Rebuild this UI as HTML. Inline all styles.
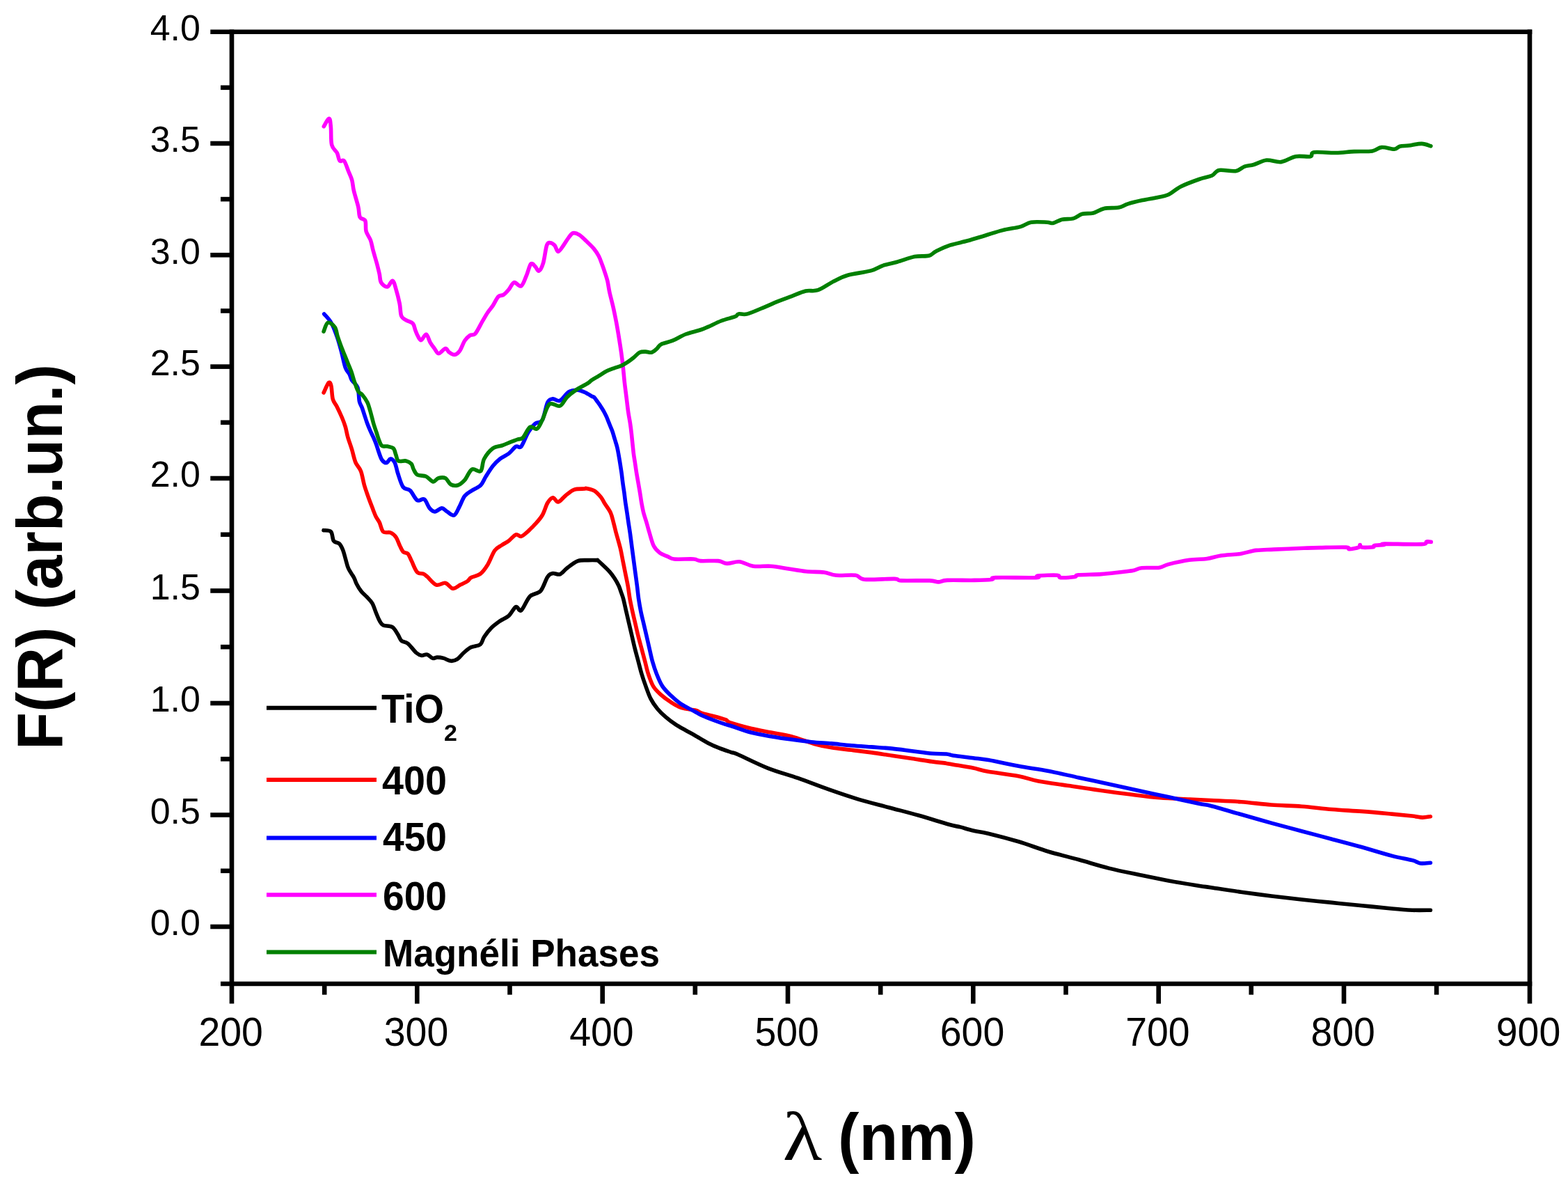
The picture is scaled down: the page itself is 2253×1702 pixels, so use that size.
<!DOCTYPE html>
<html><head><meta charset="utf-8"><title>F(R) vs wavelength</title>
<style>html,body{margin:0;padding:0;background:#fff;}svg{display:block;}.t{font-family:"Liberation Sans",Arial,sans-serif;fill:#000;}</style></head><body>
<svg width="2253" height="1702" viewBox="0 0 2253 1702">
<rect width="2253" height="1702" fill="#fff"/>
<g fill="none" stroke-width="5.6" stroke-linejoin="round" stroke-linecap="round">
<path stroke="#000000" d="M465.0,761.7 C466.8,762.0 473.1,761.2 475.5,763.7 C477.9,766.2 477.5,774.0 479.5,776.9 C481.5,779.8 485.2,778.6 487.4,780.8 C489.6,783.0 491.2,786.3 492.7,790.0 C494.2,793.7 495.3,798.8 496.6,803.2 C497.9,807.6 498.6,812.0 500.6,816.4 C502.6,820.8 506.5,825.8 508.5,829.5 C510.5,833.2 510.6,835.4 512.4,838.7 C514.1,842.0 516.6,846.2 519.0,849.3 C521.4,852.4 524.3,854.4 526.9,857.2 C529.5,860.1 532.6,862.7 534.8,866.4 C537.0,870.1 538.4,875.3 540.1,879.5 C541.9,883.7 543.5,888.3 545.3,891.4 C547.0,894.5 547.5,896.5 550.6,898.0 C553.7,899.5 560.2,898.4 563.7,900.6 C567.2,902.8 569.4,907.8 571.6,911.1 C573.8,914.4 574.5,918.2 576.9,920.4 C579.3,922.6 582.6,921.4 586.1,924.3 C589.6,927.1 594.7,934.6 598.0,937.5 C601.3,940.4 603.3,941.0 605.9,941.4 C608.5,941.8 611.2,939.4 613.8,940.1 C616.4,940.8 619.3,944.7 621.7,945.4 C624.1,946.1 625.7,944.1 628.3,944.1 C630.9,944.1 634.2,944.5 637.5,945.4 C640.8,946.3 644.7,949.1 648.0,949.3 C651.3,949.5 654.1,948.7 657.2,946.7 C660.3,944.7 663.1,940.4 666.4,937.5 C669.7,934.6 673.0,931.6 677.0,929.6 C681.0,927.6 687.0,928.1 690.1,925.6 C693.2,923.1 693.1,918.6 695.7,914.7 C698.3,910.8 702.0,905.8 705.8,902.0 C709.6,898.2 714.3,894.9 718.5,891.9 C722.7,888.9 727.3,887.7 731.1,884.3 C734.9,880.9 738.3,872.9 741.3,871.6 C744.3,870.3 745.5,879.2 748.9,876.7 C752.3,874.2 756.9,861.1 761.5,856.5 C766.1,851.9 772.5,853.5 776.7,848.9 C780.9,844.2 783.8,832.8 786.8,828.6 C789.8,824.4 791.4,824.1 794.4,823.5 C797.4,822.9 801.2,826.0 804.6,824.8 C808.0,823.5 810.5,819.2 814.7,816.0 C818.9,812.8 824.8,807.7 829.9,805.8 C835.0,803.9 840.5,804.8 845.1,804.6 C849.7,804.4 855.4,804.5 857.7,804.6 C860.0,804.7 857.5,803.6 859.1,805.0 C860.7,806.4 864.7,810.1 867.5,812.8 C870.3,815.5 873.3,818.2 875.9,821.2 C878.5,824.2 880.9,827.4 883.1,830.8 C885.3,834.2 887.5,838.1 889.1,841.5 C890.7,844.9 891.5,848.0 892.6,851.1 C893.7,854.2 894.4,855.5 895.6,860.0 C896.8,864.5 898.3,871.9 899.7,877.9 C901.1,883.9 902.5,889.9 903.9,895.9 C905.3,901.9 906.7,907.8 908.1,913.8 C909.5,919.8 910.8,925.8 912.3,931.8 C913.8,937.8 915.5,943.7 917.1,949.7 C918.7,955.7 920.1,961.7 921.9,967.7 C923.7,973.7 925.7,979.6 927.9,985.6 C930.1,991.6 932.2,998.2 935.0,1003.6 C937.8,1009.0 941.0,1013.5 944.6,1017.9 C948.2,1022.3 952.2,1026.1 956.6,1029.9 C961.0,1033.7 966.1,1037.5 970.9,1040.7 C975.7,1043.9 980.7,1046.4 985.3,1049.0 C989.9,1051.6 993.1,1053.2 998.4,1056.2 C1003.7,1059.2 1011.4,1064.1 1017.3,1067.2 C1023.2,1070.3 1028.4,1072.5 1034.0,1074.7 C1039.6,1076.9 1046.5,1079.1 1050.8,1080.6 C1055.1,1082.1 1051.2,1079.7 1060.0,1083.5 C1068.8,1087.3 1088.9,1097.6 1103.4,1103.3 C1117.9,1109.0 1132.3,1112.6 1146.8,1117.7 C1161.3,1122.8 1175.7,1128.6 1190.2,1133.7 C1204.7,1138.8 1219.1,1143.8 1233.6,1148.1 C1248.1,1152.4 1262.5,1155.8 1277.0,1159.7 C1291.5,1163.6 1305.9,1167.2 1320.4,1171.3 C1334.9,1175.4 1353.9,1181.5 1363.8,1184.3 C1373.7,1187.1 1374.2,1186.5 1380.0,1187.9 C1385.8,1189.4 1391.6,1191.5 1398.3,1193.0 C1405.0,1194.5 1409.2,1194.6 1420.0,1197.2 C1430.8,1199.8 1448.9,1204.5 1463.4,1208.8 C1477.9,1213.1 1492.3,1218.9 1506.8,1223.2 C1521.3,1227.5 1535.7,1230.8 1550.2,1234.8 C1564.7,1238.8 1579.1,1243.5 1593.6,1247.1 C1608.1,1250.7 1622.5,1253.5 1637.0,1256.5 C1651.5,1259.5 1665.9,1262.5 1680.4,1265.2 C1694.9,1267.9 1713.9,1270.8 1723.8,1272.4 C1733.7,1274.0 1730.1,1273.2 1740.0,1274.7 C1749.9,1276.2 1768.9,1279.2 1783.4,1281.2 C1797.9,1283.2 1812.3,1285.2 1826.8,1287.0 C1841.3,1288.8 1855.7,1290.4 1870.2,1292.0 C1884.7,1293.6 1899.1,1295.0 1913.6,1296.4 C1928.1,1297.9 1942.7,1299.3 1957.0,1300.7 C1971.3,1302.1 1987.5,1303.9 1999.6,1305.0 C2011.6,1306.1 2020.0,1306.8 2029.3,1307.2 C2038.6,1307.6 2051.1,1307.2 2055.4,1307.2"/>
<path stroke="#ff0000" d="M465.1,564.0 C466.3,561.6 470.5,551.3 472.3,549.7 C474.1,548.1 474.9,550.5 475.9,554.5 C476.9,558.5 476.9,568.6 478.3,573.6 C479.7,578.6 482.1,580.0 484.3,584.4 C486.5,588.8 489.5,595.2 491.5,600.0 C493.5,604.8 494.9,608.4 496.3,613.1 C497.7,617.8 498.2,622.5 499.8,628.0 C501.4,633.5 504.0,640.3 505.8,646.3 C507.6,652.3 508.8,659.0 510.9,664.1 C513.0,669.2 516.4,671.2 518.5,676.7 C520.6,682.2 521.8,691.1 523.5,697.0 C525.2,702.9 526.5,706.3 528.6,712.2 C530.7,718.1 534.3,727.4 536.2,732.4 C538.1,737.4 538.6,739.0 540.1,742.0 C541.6,745.0 543.5,746.9 545.3,750.5 C547.0,754.1 548.0,761.3 550.6,763.7 C553.2,766.1 558.0,763.7 561.1,765.0 C564.2,766.3 566.8,768.5 569.0,771.6 C571.2,774.7 572.5,779.9 574.3,783.4 C576.0,786.9 577.5,790.7 579.5,792.7 C581.5,794.7 584.1,793.1 586.1,795.3 C588.1,797.5 589.2,801.4 591.4,805.8 C593.6,810.2 596.4,818.5 599.3,821.6 C602.1,824.7 606.1,823.2 608.5,824.3 C610.9,825.4 610.7,825.6 613.8,828.2 C616.9,830.8 622.5,838.6 626.9,840.1 C631.3,841.6 636.1,836.5 640.1,837.4 C644.1,838.3 647.1,844.8 650.6,845.3 C654.1,845.8 657.7,841.9 661.2,840.1 C664.7,838.4 669.1,836.6 671.7,834.8 C674.3,833.0 673.9,831.2 677.0,829.5 C680.1,827.8 686.1,827.4 690.1,824.3 C694.1,821.2 697.3,816.5 700.8,810.9 C704.3,805.3 707.5,795.2 710.9,790.6 C714.3,786.0 717.6,785.3 721.0,783.0 C724.4,780.7 727.7,779.2 731.1,776.7 C734.5,774.2 738.3,768.8 741.3,767.8 C744.3,766.8 745.9,771.2 748.9,770.4 C751.9,769.6 755.6,765.8 759.0,762.8 C762.4,759.8 765.7,756.5 769.1,752.7 C772.5,748.9 776.2,745.1 779.2,740.0 C782.2,734.9 784.3,726.5 786.8,722.3 C789.3,718.1 791.9,714.9 794.4,714.7 C796.9,714.5 799.0,721.4 802.0,721.0 C805.0,720.6 808.4,715.2 812.2,712.2 C816.0,709.2 820.2,705.0 824.8,703.3 C829.4,701.6 837.1,702.3 840.0,702.0 C842.9,701.7 840.0,701.0 842.4,701.5 C844.8,702.0 850.8,702.9 854.4,705.1 C858.0,707.3 861.5,711.8 863.9,714.7 C866.2,717.6 866.3,718.9 868.5,722.5 C870.7,726.1 875.0,731.4 877.2,736.1 C879.4,740.8 880.2,745.7 881.5,750.5 C882.8,755.3 883.5,758.7 885.1,764.9 C886.8,771.1 889.8,780.9 891.4,787.7 C893.0,794.5 893.8,799.6 895.0,805.6 C896.2,811.6 897.4,817.6 898.6,823.6 C899.8,829.6 901.1,835.4 902.2,841.5 C903.3,847.6 903.9,853.9 905.0,860.0 C906.1,866.1 907.4,871.9 908.7,877.9 C910.0,883.9 911.5,889.9 912.9,895.9 C914.3,901.9 915.6,907.8 917.1,913.8 C918.6,919.8 920.3,925.8 921.9,931.8 C923.5,937.8 925.1,943.7 926.7,949.7 C928.3,955.7 929.4,961.7 931.4,967.7 C933.4,973.7 935.6,980.6 938.6,985.6 C941.6,990.6 945.2,993.8 949.4,997.6 C953.6,1001.4 958.8,1005.2 963.8,1008.4 C968.8,1011.6 973.3,1014.7 979.3,1016.7 C985.3,1018.7 994.7,1019.0 999.6,1020.3 C1004.5,1021.6 1004.6,1023.1 1008.9,1024.5 C1013.2,1025.9 1020.0,1027.2 1025.6,1028.7 C1031.2,1030.2 1038.3,1032.1 1042.4,1033.7 C1046.5,1035.3 1043.9,1036.1 1050.0,1038.2 C1056.1,1040.3 1069.2,1043.9 1078.9,1046.2 C1088.6,1048.5 1098.2,1050.1 1107.9,1052.0 C1117.6,1053.9 1126.0,1054.8 1136.8,1057.7 C1147.6,1060.6 1163.3,1066.6 1173.0,1069.3 C1182.7,1072.0 1186.3,1072.4 1194.7,1073.7 C1203.1,1075.0 1214.0,1076.1 1223.6,1077.3 C1233.2,1078.5 1242.8,1079.6 1252.5,1080.9 C1262.2,1082.2 1271.8,1083.8 1281.5,1085.2 C1291.2,1086.7 1300.8,1088.1 1310.4,1089.6 C1320.0,1091.0 1331.0,1092.8 1339.3,1093.9 C1347.6,1095.0 1354.9,1095.7 1360.0,1096.4 C1365.1,1097.1 1363.6,1097.1 1370.0,1098.2 C1376.4,1099.3 1390.0,1101.4 1398.3,1103.1 C1406.6,1104.8 1409.2,1106.3 1420.0,1108.2 C1430.8,1110.1 1451.4,1112.4 1463.4,1114.7 C1475.5,1117.0 1480.2,1119.7 1492.3,1122.0 C1504.3,1124.3 1521.2,1126.3 1535.7,1128.5 C1550.2,1130.7 1564.6,1133.0 1579.1,1135.0 C1593.6,1137.0 1608.0,1139.0 1622.5,1140.8 C1637.0,1142.6 1651.4,1144.6 1665.9,1145.8 C1680.4,1147.0 1697.0,1147.4 1709.3,1148.0 C1721.6,1148.6 1727.7,1148.9 1740.0,1149.5 C1752.3,1150.1 1768.9,1150.6 1783.4,1151.7 C1797.9,1152.8 1812.3,1154.9 1826.8,1156.0 C1841.3,1157.1 1855.7,1157.1 1870.2,1158.2 C1884.7,1159.3 1899.1,1161.3 1913.6,1162.5 C1928.1,1163.7 1942.7,1164.3 1957.0,1165.4 C1971.3,1166.5 1987.5,1168.0 1999.6,1169.1 C2011.6,1170.2 2021.9,1171.2 2029.3,1172.0 C2036.7,1172.8 2039.4,1174.0 2043.8,1174.1 C2048.2,1174.2 2053.5,1172.9 2055.4,1172.7"/>
<path stroke="#0000ff" d="M465.7,450.9 C467.4,453.0 472.8,458.0 475.9,463.5 C479.0,469.0 481.9,477.1 484.3,483.9 C486.7,490.7 488.3,496.8 490.3,504.2 C492.3,511.6 494.3,522.5 496.3,528.1 C498.3,533.7 500.7,534.7 502.2,537.7 C503.7,540.7 503.5,542.8 505.5,546.0 C507.5,549.2 512.2,551.9 514.0,557.0 C515.8,562.1 515.4,571.8 516.4,576.5 C517.4,581.2 518.8,581.9 520.0,585.1 C521.2,588.3 522.4,592.3 523.6,595.9 C524.8,599.5 525.9,603.1 527.2,606.7 C528.5,610.3 530.0,613.9 531.5,617.5 C533.0,621.1 534.9,624.6 536.5,628.2 C538.1,631.8 539.6,635.4 540.9,639.0 C542.2,642.6 543.1,646.2 544.4,649.8 C545.7,653.4 547.0,658.0 548.8,660.5 C550.6,663.0 553.2,665.0 555.2,664.8 C557.2,664.6 559.1,659.3 561.0,659.1 C562.9,658.9 565.3,661.2 566.7,663.4 C568.1,665.5 568.8,669.2 569.6,672.0 C570.4,674.8 570.1,675.4 571.7,680.0 C573.3,684.6 576.2,695.4 579.2,699.5 C582.2,703.6 586.0,701.4 589.4,704.6 C592.8,707.8 596.1,716.4 599.5,718.5 C602.9,720.6 606.6,715.3 609.6,717.2 C612.6,719.1 614.7,727.0 617.2,729.9 C619.7,732.8 621.8,734.9 624.8,734.9 C627.8,734.9 631.9,729.9 634.9,729.9 C637.9,729.9 639.5,733.2 642.5,734.9 C645.5,736.6 649.7,741.3 652.7,740.0 C655.7,738.7 657.8,731.9 660.3,727.3 C662.8,722.7 664.8,716.0 667.8,712.2 C670.8,708.4 674.2,707.1 678.0,704.6 C681.8,702.1 687.2,700.4 690.6,697.0 C694.0,693.6 695.2,688.9 698.2,684.3 C701.2,679.6 705.0,673.3 708.4,669.1 C711.8,664.9 714.7,662.0 718.5,659.0 C722.3,656.0 727.3,654.4 731.1,651.4 C734.9,648.4 738.3,643.0 741.3,641.3 C744.3,639.6 745.9,644.7 748.9,641.3 C751.9,637.9 755.6,626.5 759.0,621.0 C762.4,615.5 765.7,611.4 769.1,608.4 C772.5,605.4 776.2,608.4 779.2,603.3 C782.2,598.2 784.3,583.1 786.8,578.0 C789.3,572.9 791.4,573.3 794.4,572.9 C797.4,572.5 800.8,577.1 804.6,575.4 C808.4,573.7 813.0,565.3 817.2,562.8 C821.4,560.3 826.3,560.3 829.9,560.3 C833.5,560.3 836.4,562.0 838.9,562.9 C841.4,563.8 842.9,564.8 844.9,565.9 C846.9,567.0 849.4,568.7 850.9,569.5 C852.4,570.3 852.3,569.2 853.6,570.5 C854.9,571.8 856.9,574.9 858.6,577.2 C860.3,579.5 862.1,582.0 863.6,584.4 C865.1,586.8 866.6,589.1 867.9,591.5 C869.2,593.9 870.4,596.3 871.5,598.7 C872.6,601.1 873.4,603.5 874.4,605.9 C875.4,608.3 876.3,610.7 877.3,613.1 C878.3,615.5 879.4,617.9 880.2,620.3 C881.0,622.7 881.6,625.0 882.3,627.4 C883.0,629.8 883.8,632.2 884.5,634.6 C885.2,637.0 885.9,639.1 886.6,641.8 C887.3,644.5 887.8,647.2 888.5,651.0 C889.2,654.8 890.0,659.8 890.8,664.4 C891.5,669.0 892.3,673.9 893.0,678.7 C893.7,683.5 894.1,688.3 894.8,693.1 C895.4,697.9 896.2,702.6 896.9,707.4 C897.5,712.2 898.0,717.0 898.7,721.8 C899.4,726.6 900.2,731.3 900.9,736.1 C901.6,740.9 902.3,745.7 903.0,750.5 C903.7,755.3 904.3,758.7 905.2,764.9 C906.1,771.1 907.3,780.9 908.2,787.7 C909.1,794.5 909.8,799.6 910.6,805.6 C911.4,811.6 912.2,817.6 913.0,823.6 C913.8,829.6 914.6,835.4 915.4,841.5 C916.2,847.6 916.7,853.9 917.6,860.0 C918.5,866.1 919.5,871.9 920.7,877.9 C921.9,883.9 923.5,889.9 924.9,895.9 C926.3,901.9 927.7,907.8 929.1,913.8 C930.5,919.8 931.8,925.8 933.2,931.8 C934.6,937.8 935.7,943.7 937.4,949.7 C939.1,955.7 941.0,961.7 943.4,967.7 C945.8,973.7 948.4,980.4 951.8,985.6 C955.2,990.8 959.4,994.6 963.8,998.8 C968.2,1003.0 972.1,1006.8 978.1,1010.8 C984.1,1014.8 994.5,1019.9 999.6,1022.7 C1004.7,1025.5 1004.6,1025.8 1008.9,1027.8 C1013.2,1029.8 1020.0,1032.4 1025.6,1034.5 C1031.2,1036.6 1038.3,1039.1 1042.4,1040.4 C1046.5,1041.7 1043.9,1040.6 1050.0,1042.5 C1056.1,1044.4 1069.2,1049.5 1078.9,1052.0 C1088.6,1054.5 1098.2,1056.0 1107.9,1057.7 C1117.6,1059.4 1127.2,1060.8 1136.8,1062.1 C1146.4,1063.4 1156.0,1064.7 1165.7,1065.7 C1175.4,1066.7 1185.1,1067.1 1194.7,1067.9 C1204.3,1068.8 1214.0,1070.0 1223.6,1070.8 C1233.2,1071.6 1242.8,1072.2 1252.5,1072.9 C1262.2,1073.6 1271.8,1074.1 1281.5,1075.1 C1291.2,1076.1 1300.8,1077.5 1310.4,1078.7 C1320.0,1079.9 1331.0,1081.6 1339.3,1082.3 C1347.6,1083.0 1354.9,1082.5 1360.0,1083.0 C1365.1,1083.5 1363.6,1084.2 1370.0,1085.2 C1376.4,1086.2 1390.0,1087.6 1398.3,1088.7 C1406.6,1089.8 1409.2,1089.7 1420.0,1091.6 C1430.8,1093.5 1448.9,1097.6 1463.4,1100.3 C1477.9,1103.0 1492.3,1104.7 1506.8,1107.5 C1521.3,1110.3 1535.7,1113.8 1550.2,1116.9 C1564.7,1120.0 1579.1,1123.2 1593.6,1126.3 C1608.1,1129.4 1622.5,1132.6 1637.0,1135.7 C1651.5,1138.8 1665.9,1142.0 1680.4,1145.1 C1694.9,1148.2 1713.9,1152.4 1723.8,1154.5 C1733.7,1156.6 1730.1,1155.0 1740.0,1157.5 C1749.9,1160.0 1768.9,1165.7 1783.4,1169.8 C1797.9,1173.9 1812.3,1178.1 1826.8,1182.1 C1841.3,1186.1 1855.7,1189.8 1870.2,1193.7 C1884.7,1197.6 1899.1,1201.4 1913.6,1205.2 C1928.1,1209.0 1942.7,1212.8 1957.0,1216.8 C1971.3,1220.8 1987.5,1226.0 1999.6,1229.1 C2011.6,1232.2 2022.4,1233.8 2029.3,1235.6 C2036.2,1237.4 2036.6,1239.4 2040.9,1240.0 C2045.2,1240.6 2053.0,1239.3 2055.4,1239.2"/>
<path stroke="#ff00ff" d="M465.3,181.6 C466.6,179.7 471.2,170.1 472.9,170.3 C474.6,170.5 474.8,176.6 475.4,182.9 C476.0,189.2 475.2,202.1 476.7,208.2 C478.2,214.3 482.4,215.8 484.3,219.6 C486.2,223.4 486.4,229.1 488.1,231.0 C489.8,232.9 492.3,228.5 494.4,231.0 C496.5,233.5 498.9,241.5 500.8,246.2 C502.7,250.8 504.5,254.3 505.8,258.9 C507.1,263.5 506.9,267.7 508.4,274.0 C509.9,280.3 513.2,290.5 514.7,296.8 C516.2,303.1 515.5,308.6 517.2,312.0 C518.9,315.4 523.3,313.7 524.8,317.1 C526.3,320.5 524.8,327.7 526.1,332.3 C527.4,336.9 530.7,340.3 532.4,344.9 C534.1,349.5 534.7,354.6 536.2,360.1 C537.7,365.6 539.8,372.3 541.3,377.8 C542.8,383.3 544.0,388.4 545.1,393.0 C546.2,397.6 545.7,402.5 547.6,405.7 C549.5,408.9 553.8,412.4 556.5,412.0 C559.2,411.6 562.0,402.6 564.1,403.2 C566.2,403.8 567.4,410.3 569.1,415.8 C570.8,421.3 572.9,429.8 574.2,436.1 C575.5,442.4 575.1,449.8 576.7,453.8 C578.3,457.8 580.9,458.1 583.6,459.9 C586.4,461.7 591.0,462.3 593.2,464.7 C595.4,467.1 595.6,471.3 596.8,474.3 C598.0,477.3 599.0,480.3 600.4,482.7 C601.8,485.1 603.2,489.0 605.2,488.6 C607.2,488.2 610.2,479.7 612.4,480.3 C614.6,480.9 616.3,488.8 618.3,492.2 C620.3,495.6 622.3,498.0 624.3,500.6 C626.3,503.2 627.7,507.8 630.3,507.8 C632.9,507.8 637.5,501.0 640.0,500.6 C642.5,500.2 643.0,504.2 645.1,505.7 C647.2,507.2 650.2,509.7 652.7,509.5 C655.2,509.3 657.8,507.8 660.3,504.4 C662.8,501.0 665.3,493.0 667.8,489.2 C670.3,485.4 672.9,483.3 675.4,481.6 C677.9,479.9 680.0,482.5 683.0,479.1 C686.0,475.7 690.2,466.5 693.2,461.4 C696.2,456.3 698.3,452.5 700.8,448.7 C703.3,444.9 705.9,442.4 708.4,438.6 C710.9,434.8 713.5,428.5 716.0,426.0 C718.5,423.5 721.0,425.1 723.5,423.4 C726.0,421.7 728.6,418.8 731.1,415.8 C733.6,412.9 735.7,406.5 738.7,405.7 C741.7,404.9 745.9,412.5 748.9,410.8 C751.9,409.1 754.2,400.9 756.5,395.6 C758.8,390.3 760.7,381.2 762.8,379.1 C764.9,377.0 767.2,381.2 769.1,382.9 C771.0,384.6 772.3,390.0 774.2,389.2 C776.1,388.4 778.6,383.9 780.5,377.8 C782.4,371.7 783.9,357.4 785.6,352.5 C787.3,347.6 788.7,348.7 790.6,348.7 C792.5,348.7 795.1,350.4 797.0,352.5 C798.9,354.6 799.9,361.4 802.0,361.4 C804.1,361.4 807.1,355.9 809.6,352.5 C812.1,349.1 814.9,344.1 817.2,341.1 C819.5,338.2 821.0,335.4 823.5,334.8 C826.0,334.2 829.2,335.4 832.4,337.3 C835.5,339.2 838.9,343.0 842.4,346.3 C845.9,349.6 850.2,353.5 853.2,357.1 C856.2,360.7 858.3,364.0 860.3,367.8 C862.3,371.6 863.6,375.8 865.1,379.8 C866.6,383.8 868.0,387.8 869.3,391.8 C870.6,395.8 871.8,399.0 872.9,403.7 C874.0,408.4 874.5,413.7 875.9,420.0 C877.3,426.3 879.6,434.4 881.2,441.6 C882.8,448.8 884.2,455.9 885.6,463.1 C887.0,470.3 888.1,477.5 889.3,484.7 C890.5,491.9 891.6,499.0 892.6,506.2 C893.6,513.4 894.5,520.6 895.3,527.8 C896.1,535.0 896.6,542.1 897.4,549.3 C898.2,556.5 899.2,563.7 900.1,570.9 C901.0,578.1 901.9,586.4 902.8,592.4 C903.7,598.4 904.5,601.9 905.3,607.0 C906.1,612.1 906.6,615.9 907.4,623.1 C908.2,630.3 909.4,643.1 910.2,650.0 C911.0,656.9 911.7,659.6 912.4,664.4 C913.1,669.2 913.7,673.9 914.5,678.7 C915.3,683.5 916.2,688.3 917.0,693.1 C917.8,697.9 918.7,702.6 919.5,707.4 C920.3,712.2 920.9,717.0 921.7,721.8 C922.6,726.6 923.4,731.2 924.6,736.1 C925.9,741.0 927.8,746.6 929.2,751.2 C930.6,755.9 931.1,758.5 932.8,764.0 C934.5,769.5 936.8,779.1 939.3,784.1 C941.8,789.1 944.2,791.1 947.7,793.7 C951.2,796.3 956.5,798.1 960.0,799.6 C963.5,801.1 962.6,802.4 968.7,803.0 C974.8,803.6 990.2,802.6 996.5,803.0 C1002.8,803.4 1000.7,805.2 1006.6,805.6 C1012.5,806.0 1025.6,805.0 1031.9,805.6 C1038.2,806.2 1039.5,809.2 1044.6,809.4 C1049.7,809.6 1056.0,806.2 1062.3,806.8 C1068.6,807.4 1074.9,812.1 1082.5,813.2 C1090.1,814.3 1099.3,812.6 1107.8,813.2 C1116.2,813.8 1124.8,815.7 1133.2,817.0 C1141.7,818.3 1150.1,820.0 1158.5,820.8 C1166.9,821.6 1176.6,821.1 1183.8,822.0 C1191.0,822.9 1193.9,825.6 1201.5,826.3 C1209.1,827.0 1222.7,825.3 1229.4,826.3 C1236.2,827.3 1232.7,831.4 1242.0,832.2 C1251.3,833.1 1276.2,831.1 1285.1,831.4 C1294.0,831.7 1286.8,833.5 1295.2,833.9 C1303.6,834.3 1326.8,833.6 1335.7,833.9 C1344.6,834.2 1344.2,836.0 1348.4,835.9 C1352.6,835.8 1352.4,833.8 1361.0,833.4 C1369.6,833.0 1389.3,833.6 1400.0,833.4 C1410.7,833.2 1420.2,832.8 1425.3,832.2 C1430.4,831.6 1419.9,830.0 1430.4,829.6 C1441.0,829.2 1478.5,830.0 1488.6,829.6 C1498.7,829.2 1486.0,827.7 1491.1,827.1 C1496.2,826.5 1513.5,825.9 1519.0,826.3 C1524.5,826.7 1519.8,829.2 1524.0,829.6 C1528.2,830.0 1540.1,829.0 1544.3,828.4 C1548.5,827.8 1543.1,826.4 1549.4,825.8 C1555.7,825.2 1572.6,825.2 1582.3,824.6 C1592.0,824.0 1600.0,822.9 1607.6,822.0 C1615.2,821.1 1622.3,820.5 1627.8,819.5 C1633.3,818.5 1634.2,816.4 1640.5,815.7 C1646.8,815.0 1659.5,816.1 1665.8,815.2 C1672.1,814.4 1671.3,812.4 1678.5,810.6 C1685.7,808.8 1699.6,805.6 1708.9,804.3 C1718.2,802.9 1726.6,803.5 1734.2,802.5 C1741.8,801.5 1746.4,799.2 1754.4,798.0 C1762.4,796.8 1773.8,796.7 1782.3,795.4 C1790.8,794.1 1797.1,791.4 1805.1,790.4 C1813.1,789.4 1819.0,789.6 1830.4,789.1 C1841.8,788.6 1862.4,787.7 1873.4,787.3 C1884.4,786.9 1886.2,786.8 1896.3,786.6 C1906.4,786.4 1927.1,785.7 1934.2,786.1 C1941.3,786.5 1935.8,788.8 1938.8,788.8 C1941.8,788.8 1949.8,787.1 1952.3,786.1 C1954.8,785.1 1953.3,782.5 1954.1,782.5 C1954.9,782.5 1953.7,785.6 1956.9,786.1 C1960.1,786.6 1970.1,786.2 1973.1,785.7 C1976.1,785.2 1972.3,783.9 1974.9,783.4 C1977.5,782.9 1986.1,782.9 1988.5,782.5 C1990.9,782.1 1980.4,781.2 1989.4,781.1 C1998.4,781.0 2032.6,782.1 2042.7,781.6 C2052.8,781.1 2047.7,778.5 2050.0,778.0 C2052.3,777.5 2055.2,778.3 2056.3,778.4"/>
<path stroke="#008000" d="M465.1,476.1 C466.1,474.0 468.4,464.5 471.1,463.5 C473.8,462.5 478.9,466.7 481.2,470.0 C483.5,473.3 483.7,478.8 485.1,483.2 C486.5,487.6 488.1,491.9 489.7,496.3 C491.3,500.7 493.2,505.1 495.0,509.5 C496.8,513.9 498.6,518.3 500.3,522.7 C502.1,527.1 504.0,531.4 505.5,535.8 C507.0,540.2 507.9,544.6 509.5,549.0 C511.1,553.4 512.9,559.2 514.8,562.2 C516.7,565.2 518.5,564.6 520.7,567.2 C522.9,569.8 526.1,574.4 527.9,578.0 C529.7,581.6 530.4,585.1 531.5,588.7 C532.6,592.3 533.4,595.9 534.4,599.5 C535.4,603.1 536.2,606.7 537.3,610.3 C538.4,613.9 539.7,617.4 540.9,621.0 C542.1,624.6 543.1,628.6 544.4,631.8 C545.7,635.0 546.8,638.8 548.8,640.4 C550.8,642.0 554.0,640.5 556.7,641.1 C559.5,641.7 563.3,642.0 565.3,644.0 C567.3,646.0 567.7,650.4 568.9,653.4 C570.1,656.4 570.1,660.6 572.5,662.0 C574.9,663.4 580.1,661.3 583.2,662.0 C586.3,662.7 589.3,664.4 591.1,666.3 C592.9,668.2 592.6,670.9 594.0,673.5 C595.4,676.1 596.5,680.0 599.5,681.8 C602.5,683.6 608.4,682.6 612.2,684.3 C616.0,686.0 619.3,691.5 622.3,691.9 C625.2,692.3 626.9,687.6 629.9,686.8 C632.9,685.9 637.0,685.3 640.0,686.8 C643.0,688.3 644.6,694.0 647.6,695.7 C650.6,697.4 654.3,698.0 657.7,697.0 C661.1,696.0 664.4,693.2 667.8,689.4 C671.2,685.6 674.2,676.3 678.0,674.2 C681.8,672.1 687.6,679.2 690.6,676.7 C693.6,674.2 692.7,664.5 695.7,659.0 C698.7,653.5 704.2,647.0 708.4,643.8 C712.6,640.6 716.8,641.5 721.0,640.0 C725.2,638.5 729.9,636.4 733.7,634.9 C737.5,633.4 740.8,632.1 743.8,631.1 C746.8,630.1 748.4,631.6 751.4,628.6 C754.4,625.6 758.1,615.5 761.5,613.4 C764.9,611.3 768.6,617.6 771.6,615.9 C774.6,614.2 776.2,609.2 779.2,603.3 C782.2,597.4 785.2,583.9 789.4,580.5 C793.6,577.1 800.4,584.7 804.6,583.0 C808.8,581.3 810.9,574.2 814.7,570.4 C818.5,566.6 822.2,563.7 827.3,560.3 C832.4,556.9 841.3,552.5 845.1,550.1 C848.9,547.7 847.4,547.9 850.0,546.1 C852.6,544.4 857.2,541.8 860.8,539.6 C864.4,537.4 868.0,534.9 871.6,533.1 C875.2,531.3 878.7,530.1 882.3,528.8 C885.9,527.5 889.9,526.5 893.1,525.1 C896.3,523.7 898.8,522.1 901.7,520.2 C904.6,518.3 907.4,516.1 910.3,513.8 C913.2,511.5 916.1,507.6 919.0,506.2 C921.9,504.8 924.7,505.1 927.6,505.1 C930.5,505.1 933.5,506.9 936.2,506.2 C938.9,505.5 941.5,502.8 943.8,500.8 C946.1,498.8 946.2,496.3 950.0,494.4 C953.8,492.5 960.7,491.6 966.6,489.2 C972.5,486.8 978.0,482.8 985.3,480.0 C992.6,477.2 1002.2,475.6 1010.6,472.4 C1019.0,469.2 1028.3,463.9 1035.9,461.0 C1043.5,458.1 1052.0,456.4 1056.2,454.7 C1060.4,453.0 1058.3,451.5 1061.3,450.9 C1064.2,450.3 1067.6,452.6 1073.9,450.9 C1080.2,449.2 1092.0,443.8 1099.2,440.8 C1106.4,437.9 1110.7,435.7 1117.0,433.2 C1123.3,430.7 1130.5,428.1 1137.2,425.6 C1144.0,423.1 1151.2,419.5 1157.5,418.0 C1163.8,416.5 1168.5,419.0 1175.2,416.7 C1182.0,414.4 1190.8,407.6 1198.0,404.0 C1205.2,400.4 1209.4,397.7 1218.2,395.2 C1227.0,392.7 1242.6,391.2 1251.1,388.9 C1259.5,386.6 1262.6,383.4 1268.9,381.3 C1275.2,379.2 1281.5,378.3 1289.1,376.2 C1296.7,374.1 1306.8,370.1 1314.4,368.6 C1322.0,367.1 1329.6,368.6 1334.7,367.3 C1339.8,366.0 1339.7,363.5 1344.8,361.0 C1349.9,358.5 1357.5,354.7 1365.1,352.2 C1372.7,349.7 1382.0,348.1 1390.4,345.8 C1398.8,343.5 1407.3,340.7 1415.7,338.2 C1424.1,335.7 1432.6,332.7 1441.0,330.6 C1449.4,328.5 1459.5,327.5 1466.3,325.6 C1473.0,323.7 1475.2,320.3 1481.5,319.2 C1487.8,318.1 1499.0,319.0 1504.3,319.2 C1509.6,319.4 1509.4,321.1 1513.1,320.4 C1516.8,319.7 1521.4,316.3 1526.2,315.2 C1531.0,314.1 1537.2,315.2 1542.0,313.9 C1546.8,312.6 1550.3,308.6 1555.1,307.3 C1559.9,306.0 1565.6,307.3 1570.8,306.0 C1576.0,304.7 1580.4,300.7 1586.5,299.4 C1592.6,298.1 1601.8,299.2 1607.5,298.1 C1613.2,297.0 1614.9,294.6 1620.6,292.9 C1626.3,291.1 1634.6,289.1 1641.6,287.6 C1648.6,286.1 1656.5,285.0 1662.6,283.7 C1668.7,282.4 1672.6,282.4 1678.3,279.8 C1684.0,277.2 1689.2,271.7 1696.6,268.0 C1704.0,264.3 1715.5,260.1 1722.9,257.5 C1730.3,254.9 1736.4,254.5 1741.2,252.3 C1746.0,250.1 1746.0,245.5 1751.7,244.4 C1757.4,243.3 1769.2,246.6 1775.3,245.7 C1781.4,244.8 1784.0,240.6 1788.4,239.1 C1792.8,237.6 1796.2,238.0 1801.5,236.5 C1806.8,235.0 1813.4,230.7 1819.9,230.0 C1826.5,229.3 1833.8,233.5 1840.8,232.6 C1847.8,231.7 1854.8,226.0 1861.8,224.7 C1868.8,223.4 1878.4,225.7 1882.8,224.7 C1887.2,223.7 1881.9,219.6 1888.0,218.7 C1894.1,217.8 1909.9,219.7 1919.5,219.5 C1929.1,219.3 1937.0,218.0 1945.7,217.6 C1954.4,217.2 1965.3,217.9 1971.9,216.9 C1978.5,215.9 1979.8,212.1 1985.1,211.6 C1990.3,211.1 1999.0,214.4 2003.4,214.2 C2007.8,214.0 2007.8,211.2 2011.3,210.3 C2014.8,209.4 2019.2,209.7 2024.4,209.0 C2029.6,208.3 2037.5,206.3 2042.7,206.4 C2048.0,206.5 2053.7,209.2 2055.9,209.8"/>
</g>
<g stroke="#000" stroke-width="6.6" fill="none" stroke-linecap="butt">
<line x1="302.3" y1="45.8" x2="2201.3" y2="45.8"/>
<line x1="317.0" y1="1413.0" x2="2201.3" y2="1413.0"/>
<line x1="333.0" y1="42.5" x2="333.0" y2="1441.6"/>
<line x1="2198.0" y1="42.5" x2="2198.0" y2="1441.6"/>
<line x1="317.0" y1="1250.8" x2="333.0" y2="1250.8"/>
<line x1="302.3" y1="1170.5" x2="333.0" y2="1170.5"/>
<line x1="317.0" y1="1090.2" x2="333.0" y2="1090.2"/>
<line x1="302.3" y1="1010.0" x2="333.0" y2="1010.0"/>
<line x1="317.0" y1="929.2" x2="333.0" y2="929.2"/>
<line x1="302.3" y1="848.5" x2="333.0" y2="848.5"/>
<line x1="317.0" y1="767.8" x2="333.0" y2="767.8"/>
<line x1="302.3" y1="687.0" x2="333.0" y2="687.0"/>
<line x1="317.0" y1="606.8" x2="333.0" y2="606.8"/>
<line x1="302.3" y1="526.6" x2="333.0" y2="526.6"/>
<line x1="317.0" y1="446.5" x2="333.0" y2="446.5"/>
<line x1="302.3" y1="366.3" x2="333.0" y2="366.3"/>
<line x1="317.0" y1="286.1" x2="333.0" y2="286.1"/>
<line x1="302.3" y1="206.0" x2="333.0" y2="206.0"/>
<line x1="317.0" y1="125.8" x2="333.0" y2="125.8"/>
<line x1="302.3" y1="1331.0" x2="333.0" y2="1331.0"/>
<line x1="466.2" y1="1413.0" x2="466.2" y2="1428.7"/>
<line x1="599.3" y1="1413.0" x2="599.3" y2="1441.6"/>
<line x1="732.5" y1="1413.0" x2="732.5" y2="1428.7"/>
<line x1="865.7" y1="1413.0" x2="865.7" y2="1441.6"/>
<line x1="998.8" y1="1413.0" x2="998.8" y2="1428.7"/>
<line x1="1132.0" y1="1413.0" x2="1132.0" y2="1441.6"/>
<line x1="1265.2" y1="1413.0" x2="1265.2" y2="1428.7"/>
<line x1="1398.3" y1="1413.0" x2="1398.3" y2="1441.6"/>
<line x1="1531.5" y1="1413.0" x2="1531.5" y2="1428.7"/>
<line x1="1664.7" y1="1413.0" x2="1664.7" y2="1441.6"/>
<line x1="1797.8" y1="1413.0" x2="1797.8" y2="1428.7"/>
<line x1="1931.0" y1="1413.0" x2="1931.0" y2="1441.6"/>
<line x1="2064.1" y1="1413.0" x2="2064.1" y2="1428.7"/>
</g>
<g class="t" font-size="52" text-anchor="end">
<text x="288" y="1343.3">0.0</text>
<text x="288" y="1182.8">0.5</text>
<text x="288" y="1022.3">1.0</text>
<text x="288" y="860.8">1.5</text>
<text x="288" y="699.3">2.0</text>
<text x="288" y="538.9">2.5</text>
<text x="288" y="378.6">3.0</text>
<text x="288" y="218.3">3.5</text>
<text x="288" y="58.0">4.0</text>
</g>
<g class="t" font-size="57" text-anchor="middle">
<text x="331.7" y="1501.5" textLength="92.5" lengthAdjust="spacingAndGlyphs">200</text>
<text x="598.0" y="1501.5" textLength="92.5" lengthAdjust="spacingAndGlyphs">300</text>
<text x="864.4" y="1501.5" textLength="92.5" lengthAdjust="spacingAndGlyphs">400</text>
<text x="1130.7" y="1501.5" textLength="92.5" lengthAdjust="spacingAndGlyphs">500</text>
<text x="1397.0" y="1501.5" textLength="92.5" lengthAdjust="spacingAndGlyphs">600</text>
<text x="1663.4" y="1501.5" textLength="92.5" lengthAdjust="spacingAndGlyphs">700</text>
<text x="1929.7" y="1501.5" textLength="92.5" lengthAdjust="spacingAndGlyphs">800</text>
<text x="2196.0" y="1501.5" textLength="92.5" lengthAdjust="spacingAndGlyphs">900</text>
</g>
<text class="t" font-weight="bold" font-size="92" textLength="554" lengthAdjust="spacingAndGlyphs" transform="translate(88.6,1077) rotate(-90)">F(R) (arb.un.)</text>
<text class="t" font-family="Liberation Serif,serif" font-size="100" transform="translate(1124.5,1666) scale(1.17,1)" style="font-family:'Liberation Serif',serif">&#955;</text>
<text class="t" x="1204" y="1665.5" font-weight="bold" font-size="94" textLength="198" lengthAdjust="spacingAndGlyphs">(nm)</text>
<g stroke-width="6" stroke-linecap="butt">
<line x1="383" y1="1016.7" x2="541" y2="1016.7" stroke="#000000"/>
<line x1="383" y1="1120.0" x2="541" y2="1120.0" stroke="#ff0000"/>
<line x1="383" y1="1203.4" x2="541" y2="1203.4" stroke="#0000ff"/>
<line x1="383" y1="1285.3" x2="541" y2="1285.3" stroke="#ff00ff"/>
<line x1="383" y1="1367.5" x2="541" y2="1367.5" stroke="#008000"/>
</g>
<g class="t" font-weight="bold" font-size="57">
<text x="548" y="1037.5"><tspan textLength="90" lengthAdjust="spacingAndGlyphs">TiO</tspan><tspan font-size="34" x="638" y="1064">2</tspan></text>
<text x="549" y="1140.5" textLength="93" lengthAdjust="spacingAndGlyphs">400</text>
<text x="550" y="1222.4" textLength="92" lengthAdjust="spacingAndGlyphs">450</text>
<text x="550" y="1306.5" textLength="92" lengthAdjust="spacingAndGlyphs">600</text>
<text x="550" y="1387.8" font-size="55" textLength="398" lengthAdjust="spacingAndGlyphs">Magnéli Phases</text>
</g>
</svg></body></html>
